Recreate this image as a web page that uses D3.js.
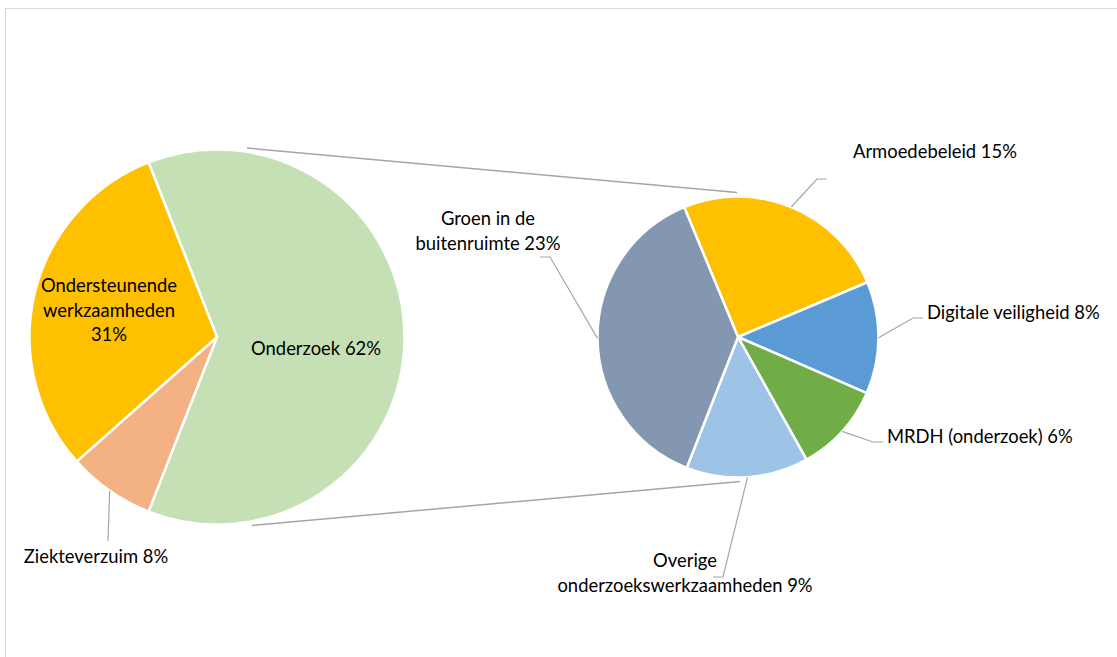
<!DOCTYPE html>
<html>
<head>
<meta charset="utf-8">
<script src="https://cdn.jsdelivr.net/npm/d3@7"></script>
<style>
body{margin:0;background:#fff;}
svg{display:block;}
text{font-family:Lato,"Open Sans",sans-serif;font-size:18.4px;fill:#000;}
</style>
</head>
<body>
<svg id="chart" width="1117" height="657"></svg>
<script>
// hoofdverdeling (percentages van totaal)
var mainCategories = ["Onderzoek", "Ziekteverzuim", "Ondersteunende werkzaamheden"];
var mainValues = [61.9, 7.5, 30.6];
// uitsplitsing van Onderzoek (percentages van totaal)
var subCategories = ["Armoedebeleid", "Digitale veiligheid", "MRDH (onderzoek)", "Overige onderzoekswerkzaamheden", "Groen in de buitenruimte"];
var subValues = [15.4, 8.0, 6.4, 8.7, 23.4];

var mainColors = ["#C5E0B4", "#F4B183", "#FFC000"];
var subColors = ["#FFC000", "#5B9BD5", "#70AD47", "#9DC3E6", "#8497B0"];

// label layout: x, first baseline, anchor, word breaks, leader points
var mainLabelLayout = [
    {x:316, y:355, anchor:"middle", breaks:[]},
    {x:96, y:563, anchor:"middle", breaks:[], leader:[[108,541]]},
    {x:109, y:292, anchor:"middle", breaks:[1,2]}
];
var subLabelLayout = [
    {x:853, y:158, anchor:"start", breaks:[], leader:[[817,179],[827,179]]},
    {x:927, y:319, anchor:"start", breaks:[], leader:[[913,318],[923,318]]},
    {x:887, y:443, anchor:"start", breaks:[], leader:[[873,442],[883,442]]},
    {x:685, y:567, anchor:"middle", breaks:[1], leader:[[723,577],[713,577]]},
    {x:488, y:225, anchor:"middle", breaks:[3], leader:[[550,257],[540,257]]}
];

var svg = d3.select("#chart");
var lineH = 24.5;

// kader
svg.append("rect")
    .attr("x",5.5).attr("y",8.5)
    .attr("width",1130).attr("height",670)
    .attr("fill","none").attr("stroke","#D9D9D9").attr("stroke-width",1);

var c1 = {x:217, y:337, r:187.5};
var c2 = {x:738, y:337, r:140.5};

var mainTotal = d3.sum(mainValues);
var mainStart = Math.PI/2 - (mainValues[0]/mainTotal)*Math.PI;
var mainPie = d3.pie().sort(null).startAngle(mainStart).endAngle(mainStart+2*Math.PI);
var subStart = -22.5*Math.PI/180;
var subPie = d3.pie().sort(null).startAngle(subStart).endAngle(subStart+2*Math.PI);

// verbindingslijnen
var series = svg.append("g").attr("stroke","#A5A5A5").attr("stroke-width",1.5);
series.append("line")
    .attr("x1",c1.x+30).attr("y1",c1.y-c1.r-1.5)
    .attr("x2",c2.x-1).attr("y2",c2.y-c2.r-4);
series.append("line")
    .attr("x1",c1.x+35).attr("y1",c1.y+c1.r+1)
    .attr("x2",c2.x+2).attr("y2",c2.y+c2.r+4);

function drawPie(cx, cy, r, values, categories, colors, pie, layout){
    var g = svg.append("g").attr("transform","translate("+cx+","+cy+")");
    var arc = d3.arc().innerRadius(0).outerRadius(r);
    var arcs = pie(values);
    g.selectAll("path").data(arcs).enter().append("path")
        .attr("d",arc)
        .attr("fill",function(d,i){return colors[i];})
        .attr("stroke","#fff").attr("stroke-width",2.5)
        .attr("stroke-linejoin","round");

    arcs.forEach(function(d,i){
        var lay = layout[i];
        if(lay.leader){
            var mid = (d.startAngle+d.endAngle)/2;
            var pts = [[cx+r*Math.sin(mid), cy-r*Math.cos(mid)]].concat(lay.leader);
            svg.append("path")
                .attr("d",d3.line()(pts))
                .attr("fill","none").attr("stroke","#A6A6A6").attr("stroke-width",1.2);
        }
        var words = (categories[i]+" "+Math.round(values[i])+"%").split(" ");
        var lines = [], cur = [];
        words.forEach(function(w,k){
            cur.push(w);
            if(lay.breaks.indexOf(k+1)>=0){lines.push(cur.join(" ")); cur=[];}
        });
        lines.push(cur.join(" "));
        var t = svg.append("text").attr("text-anchor",lay.anchor);
        lines.forEach(function(s,k){
            t.append("tspan").attr("x",lay.x).attr("y",lay.y+k*lineH).text(s);
        });
    });
}

drawPie(c1.x, c1.y, c1.r, mainValues, mainCategories, mainColors, mainPie, mainLabelLayout);
drawPie(c2.x, c2.y, c2.r, subValues, subCategories, subColors, subPie, subLabelLayout);
</script>
</body>
</html>
